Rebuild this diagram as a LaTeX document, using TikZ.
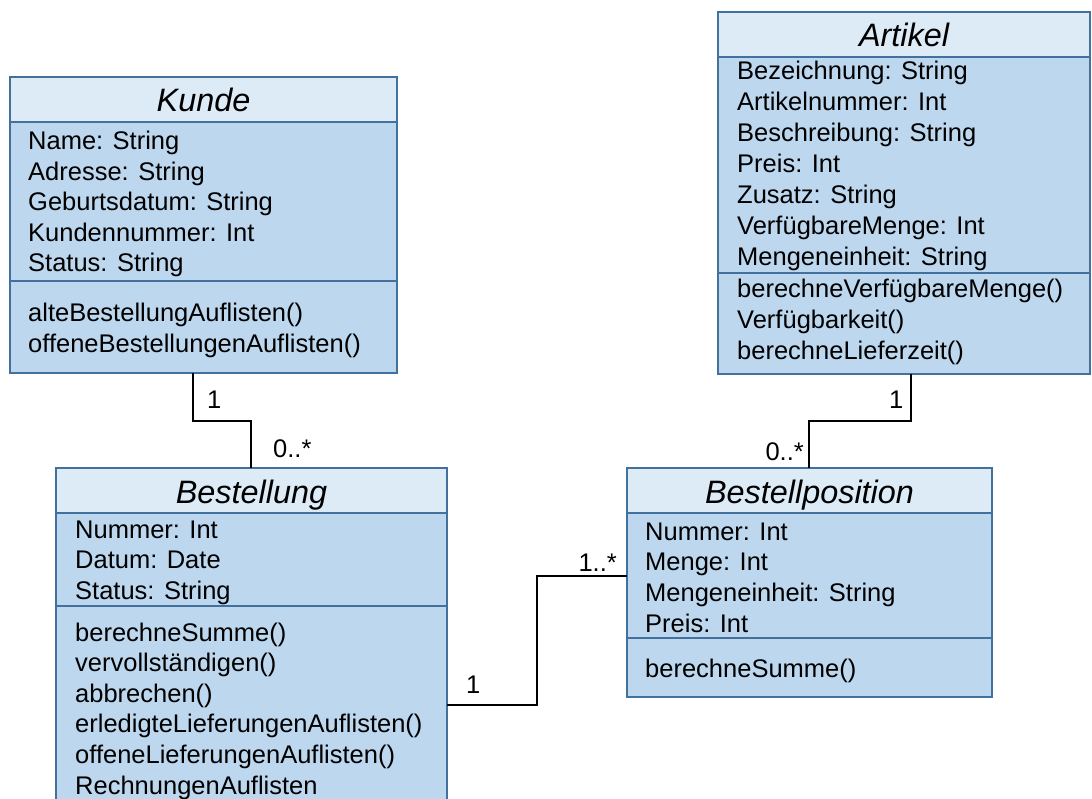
\documentclass[tikz,border=0pt]{standalone}
\usepackage{fontspec}
\setmainfont{Liberation Sans}
\definecolor{hdrc}{HTML}{DDEBF7}
\definecolor{bodyc}{HTML}{BDD7EE}
\definecolor{bordc}{HTML}{41719C}
\newcommand\ufont{\fontsize{25.5}{30.5}\selectfont}
\newcommand\tfont{\fontsize{32.4}{38}\selectfont\itshape}
\newcommand\classlines[5]{\foreach \t [count=\i from 0] in {#5} {\node[txt] (#1\i) at (#2,{#3+#4*\i}) {\t};}}
\begin{document}
\begin{tikzpicture}[x=1pt,y=-1pt,
  box/.style={draw=bordc, line width=2pt, inner sep=0pt, outer sep=0pt, anchor=north west},
  hdr/.style={box, fill=hdrc, font=\tfont, text height=25pt, text depth=0pt, minimum height=45pt},
  body/.style={box, fill=bodyc},
  txt/.style={anchor=base west, inner sep=0pt, font=\ufont},
  lbl/.style={inner sep=0pt, font=\ufont},
  assoc/.style={draw=black, line width=2pt}]
\useasboundingbox (0,0) rectangle (1092,799);
\clip (0,0) rectangle (1092,799);

% Kunde
\node[body, minimum width=387pt, minimum height=92pt] (kunde-m) at (10,281) {};
\node[body, minimum width=387pt, minimum height=159pt] (kunde-a) at (10,122) {};
\node[hdr, minimum width=387pt] (kunde-h) at (10,77) {Kunde};
\classlines{kunde-at}{28}{150}{30.5}{Name: String, Adresse: String, Geburtsdatum: String, Kundennummer: Int, Status: String}
\classlines{kunde-op}{28}{322}{30.5}{alteBestellungAuflisten(), offeneBestellungenAuflisten()}

% Artikel
\node[body, minimum width=372pt, minimum height=101pt] (artikel-m) at (718,273) {};
\node[body, minimum width=372pt, minimum height=216pt] (artikel-a) at (718,57) {};
\node[hdr, minimum width=372pt] (artikel-h) at (718,12) {Artikel};
\classlines{artikel-at}{737}{80}{31}{Bezeichnung: String, Artikelnummer: Int, Beschreibung: String, Preis: Int, Zusatz: String, VerfügbareMenge: Int, Mengeneinheit: String}
\classlines{artikel-op}{737}{297.5}{30.8}{berechneVerfügbareMenge(), Verfügbarkeit(), berechneLieferzeit()}

% Bestellung
\node[body, minimum width=391pt, minimum height=220pt] (bestellung-m) at (56,606) {};
\node[body, minimum width=391pt, minimum height=93pt] (bestellung-a) at (56,513) {};
\node[hdr, minimum width=391pt] (bestellung-h) at (56,468) {Bestellung};
\classlines{bestellung-at}{75}{538}{30.5}{Nummer: Int, Datum: Date, Status: String}
\classlines{bestellung-op}{75}{641}{30.6}{berechneSumme(), vervollständigen(), abbrechen(), erledigteLieferungenAuflisten(), offeneLieferungenAuflisten(), RechnungenAuflisten}

% Bestellposition
\node[body, minimum width=365pt, minimum height=59pt] (bestellposition-m) at (627,638) {};
\node[body, minimum width=365pt, minimum height=125pt] (bestellposition-a) at (627,513) {};
\node[hdr, minimum width=365pt] (bestellposition-h) at (627,468) {Bestellposition};
\classlines{bestellposition-at}{645}{540}{30.7}{Nummer: Int, Menge: Int, Mengeneinheit: String, Preis: Int}
\classlines{bestellposition-op}{645}{677}{30.5}{berechneSumme()}

% connectors
\coordinate (k1) at (193,421);
\coordinate (k2) at (251,421);
\draw[assoc] (kunde-m.south -| k1) -- (k1) -- (k2) -- (bestellung-h.north -| k2);
\coordinate (a1) at (911,421);
\coordinate (a2) at (809,421);
\draw[assoc] (artikel-m.south -| a1) -- (a1) -- (a2) -- (bestellposition-h.north -| a2);
\coordinate (b1) at (537,705);
\coordinate (b2) at (537,576);
\draw[assoc] (bestellung-m.east |- b1) -- (b1) -- (b2) -- (bestellposition-a.west |- b2);

% multiplicities
\node[lbl, anchor=base west] (m1) at (207,408) {1};
\node[lbl, anchor=base west] (m2) at (273,457) {0..*};
\node[lbl, anchor=base west] (m3) at (889,408) {1};
\node[lbl, anchor=base east] (m4) at (804,460) {0..*};
\node[lbl, anchor=base west] (m5) at (466,693) {1};
\node[lbl, anchor=base east] (m6) at (617,571) {1..*};
\end{tikzpicture}
\end{document}
